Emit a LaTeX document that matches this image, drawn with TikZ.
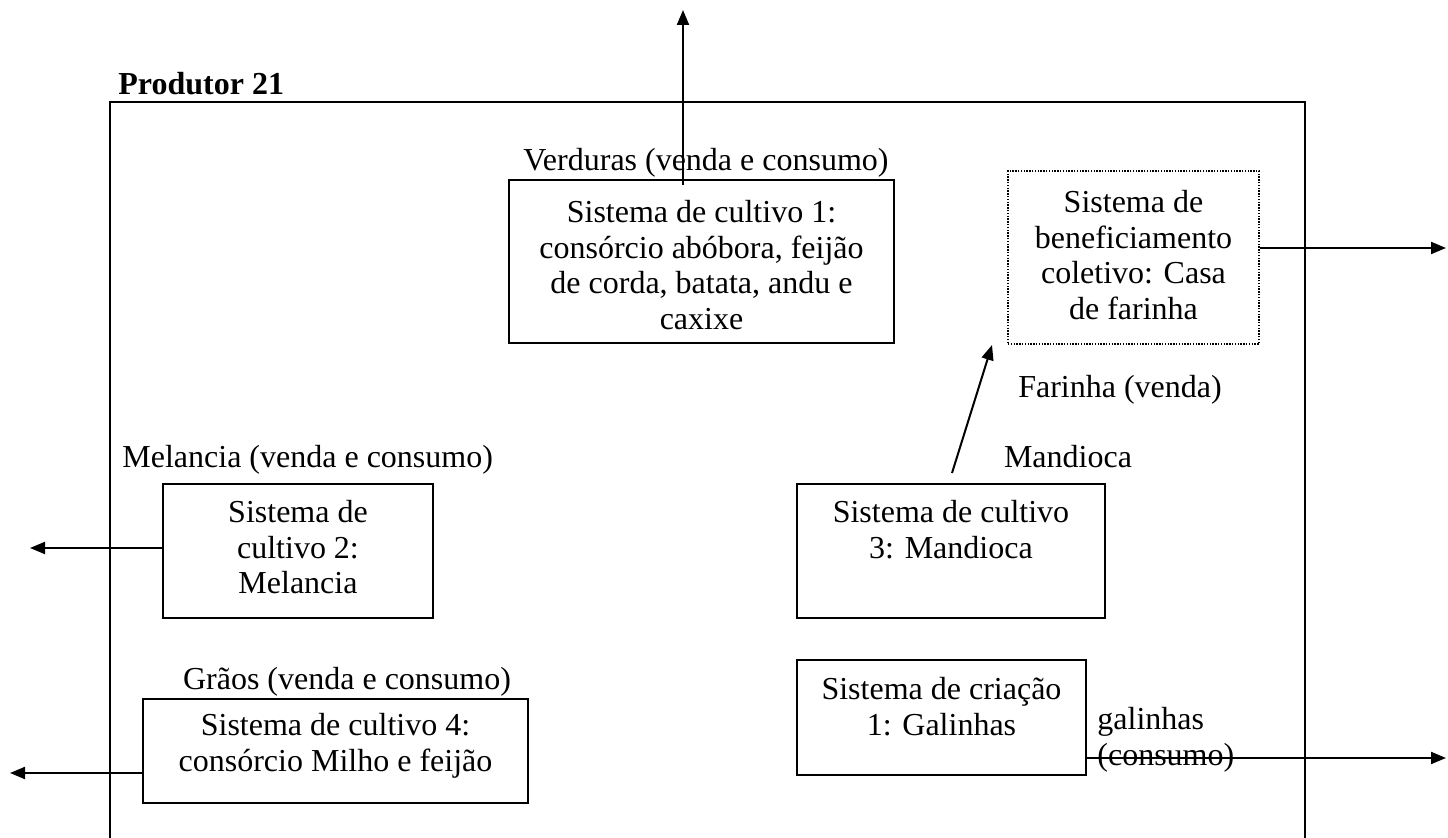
\documentclass[tikz,border=0pt]{standalone}
\usepackage{fontspec}
\setmainfont{Liberation Serif}
\usetikzlibrary{arrows.meta,fit}
\newcommand\mlines[1]{\begin{tabular}[t]{@{}c@{}}#1\end{tabular}}
\begin{document}
\begin{tikzpicture}[x=0.5pt,y=-0.5pt,
  box/.style={draw, line width=1pt, inner sep=0pt},
  dotbox/.style={draw, line width=0.7pt, dash pattern=on 0.7pt off 0.7pt, inner sep=0pt},
  txt/.style={inner sep=0pt, font=\fontsize{16}{17.75}\selectfont},
  frame/.style={line width=1.2pt},
  arr/.style={line width=1pt, -{Triangle[length=7.5pt,width=6pt]}}]
\useasboundingbox (0,0) rectangle (1448,838);

% outer frame (bottom edge lies below the picture)
\draw[frame] (110,838) -- (110,102) -- (1305,102) -- (1305,838);
\node[txt, anchor=base west] (title) at (118,95) {\bfseries Produtor 21};

% boxes
\node[box, fit={(509,180) (894,343)}] (b1) {};
\node[dotbox, fit={(1008,171) (1259,344)}] (b6) {};
\node[box, fit={(163,484) (433,618)}] (b2) {};
\node[box, fit={(797,484) (1105,618)}] (b3) {};
\node[box, fit={(143,699) (528,803)}] (b4) {};
\node[box, fit={(797,660) (1086,775)}] (b5) {};

% box texts
\node[txt, anchor=base] (t1) at (701.5,223) {\mlines{Sistema de cultivo 1:\\consórcio abóbora, feijão\\de corda, batata, andu e\\caxixe}};
\node[txt, anchor=base] (t6) at (1133.5,213) {\mlines{Sistema de\\beneficiamento\\coletivo: Casa\\de farinha}};
\node[txt, anchor=base] (t2) at (298,523) {\mlines{Sistema de\\cultivo 2:\\Melancia}};
\node[txt, anchor=base] (t3) at (951,523) {\mlines{Sistema de cultivo\\3: Mandioca}};
\node[txt, anchor=base] (t4) at (335.5,736) {\mlines{Sistema de cultivo 4:\\consórcio Milho e feijão}};
\node[txt, anchor=base] (t5) at (941.5,700) {\mlines{Sistema de criação\\1: Galinhas}};

% labels
\node[txt, anchor=base] (l1) at (706,171) {Verduras (venda e consumo)};
\node[txt, anchor=base] (l2) at (1120,398) {Farinha (venda)};
\node[txt, anchor=base] (l3) at (1068,468) {Mandioca};
\node[txt, anchor=base west] (l4) at (122,468) {Melancia (venda e consumo)};
\node[txt, anchor=base] (l5) at (347,690) {Grãos (venda e consumo)};
\node[txt, anchor=base west] (l6) at (1097,730) {\begin{tabular}[t]{@{}l@{}}galinhas\\(consumo)\end{tabular}};

% connector end points
\coordinate (vIn) at (683,185);
\coordinate (vOut) at (683,10);
\coordinate (eFar) at (1446,248);
\coordinate (dStart) at (952,473);
\coordinate (dEnd) at (992,345);
\coordinate (wMel) at (30,548);
\coordinate (wGra) at (10,773);
\coordinate (eGal) at (1446,758);

% connectors
\draw[arr] (vIn) -- (vOut);
\draw[arr] (b6.east |- eFar) -- (eFar);
\draw[arr] (dStart) -- (dEnd);
\draw[arr] (b2.west |- wMel) -- (wMel);
\draw[arr] (b4.west |- wGra) -- (wGra);
\draw[arr] (b5.east |- eGal) -- (eGal);
\end{tikzpicture}
\end{document}
